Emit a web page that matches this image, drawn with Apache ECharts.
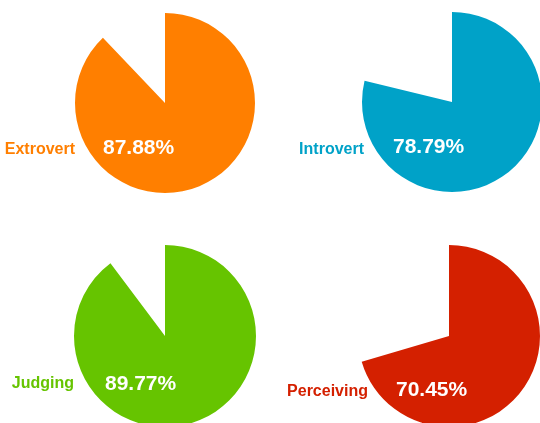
<!DOCTYPE html>
<html>
<head>
<meta charset="utf-8">
<script src="https://cdn.jsdelivr.net/npm/echarts@6/dist/echarts.min.js"></script>
<style>
  html, body { margin: 0; padding: 0; background: #fff; }
  #chart { width: 540px; height: 423px; }
</style>
</head>
<body>
<div id="chart"></div>
<script>
// Personality trait shares (percent)
const traits = ['Extrovert', 'Introvert', 'Judging', 'Perceiving'];
const shares = [87.88, 78.79, 89.77, 70.45];
const traitColors = ['#FF7F00', '#00A2C8', '#66C400', '#D42000'];

// Placement of each pie: centre in px, radius, label anchors
const layout = [
  { cx: 165, cy: 103, r: 90, nameX: 75, nameY: 150, pctX: 103, pctY: 148 },
  { cx: 452, cy: 102, r: 90, nameX: 364, nameY: 150, pctX: 393, pctY: 147 },
  { cx: 165, cy: 336, r: 91, nameX: 74, nameY: 384, pctX: 105, pctY: 384 },
  { cx: 449, cy: 336, r: 91, nameX: 368, nameY: 392, pctX: 396, pctY: 390 }
];

const chart = echarts.init(document.getElementById('chart'), null, { renderer: 'canvas' });

const series = traits.map((name, i) => ({
  type: 'pie',
  name: name,
  center: [layout[i].cx, layout[i].cy],
  radius: [0, layout[i].r],
  startAngle: 90,
  clockwise: true,
  animation: false,
  silent: true,
  label: { show: false },
  labelLine: { show: false },
  emphasis: { disabled: true },
  data: [
    { name: name, value: shares[i], itemStyle: { color: traitColors[i] } },
    { name: 'rest', value: +(100 - shares[i]).toFixed(2), itemStyle: { color: 'rgba(0,0,0,0)' } }
  ]
}));

const texts = [];
traits.forEach((name, i) => {
  const p = layout[i];
  texts.push({
    type: 'text',
    x: p.nameX, y: p.nameY,
    style: {
      text: name,
      fill: traitColors[i],
      font: 'bold 16px "Liberation Sans", Arial, sans-serif',
      textAlign: 'right',
      textVerticalAlign: 'middle'
    }
  });
  texts.push({
    type: 'text',
    x: p.pctX, y: p.pctY,
    z: 10,
    style: {
      text: shares[i].toFixed(2) + '%',
      fill: '#ffffff',
      font: 'bold 21px "Liberation Sans", Arial, sans-serif',
      textAlign: 'left',
      textVerticalAlign: 'middle'
    }
  });
});

chart.setOption({
  backgroundColor: '#ffffff',
  animation: false,
  series: series,
  graphic: texts
});
</script>
</body>
</html>
